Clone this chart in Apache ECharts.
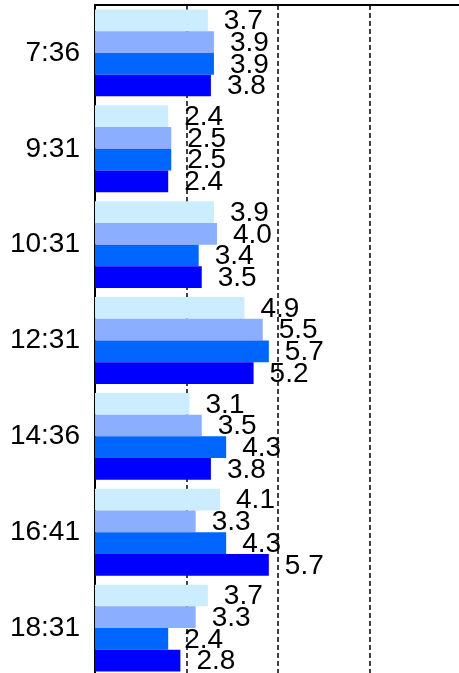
<!DOCTYPE html>
<html>
<head>
<meta charset="utf-8">
<script src="https://cdn.jsdelivr.net/npm/echarts@6/dist/echarts.min.js"></script>
<style>html,body{margin:0;padding:0;background:#fff;}#c{width:459px;height:673px;}</style>
</head>
<body>
<div id="c"></div>
<script>
var categories = ['7:36', '9:31', '10:31', '12:31', '14:36', '16:41', '18:31'];
var series1 = [3.7, 2.4, 3.9, 4.9, 3.1, 4.1, 3.7];
var series2 = [3.9, 2.5, 4.0, 5.5, 3.5, 3.3, 3.3];
var series3 = [3.9, 2.5, 3.4, 5.7, 4.3, 4.3, 2.4];
var series4 = [3.8, 2.4, 3.5, 5.2, 3.8, 5.7, 2.8];
var colors = ['#CCECFF', '#8CAEFF', '#0066FF', '#0000FF'];
var FONT = '"Liberation Sans", Arial, sans-serif';

function mk(data, color) {
  return {
    type: 'bar',
    data: data,
    barGap: '0%',
    barCategoryGap: '9.4%',
    itemStyle: { color: color },
    label: {
      show: true,
      position: 'right',
      distance: 16,
      offset: [0, 1],
      color: '#000',
      fontSize: 28,
      fontFamily: FONT,
      formatter: function (p) { return p.value.toFixed(1); }
    },
    animation: false
  };
}

var chart = echarts.init(document.getElementById('c'));
chart.setOption({
  animation: false,
  grid: { left: 95, top: 5, width: 366, height: 671, containLabel: false, outerBoundsMode: 'none' },
  xAxis: {
    type: 'value',
    position: 'top',
    min: 0, max: 12, interval: 3,
    axisLine: { show: true, lineStyle: { color: '#000', width: 2 } },
    axisTick: { show: false },
    axisLabel: { show: false },
    splitLine: { show: true, lineStyle: { color: '#000', width: 1.5, type: [5, 3] } }
  },
  yAxis: {
    type: 'category',
    data: categories,
    inverse: true,
    axisLine: { show: true, lineStyle: { color: '#000', width: 2 } },
    axisTick: { show: false },
    axisLabel: { color: '#000', fontSize: 28, fontFamily: FONT, margin: 15, padding: [4, 0, 0, 0] }
  },
  series: [mk(series1, colors[0]), mk(series2, colors[1]), mk(series3, colors[2]), mk(series4, colors[3])]
});
</script>
</body>
</html>
